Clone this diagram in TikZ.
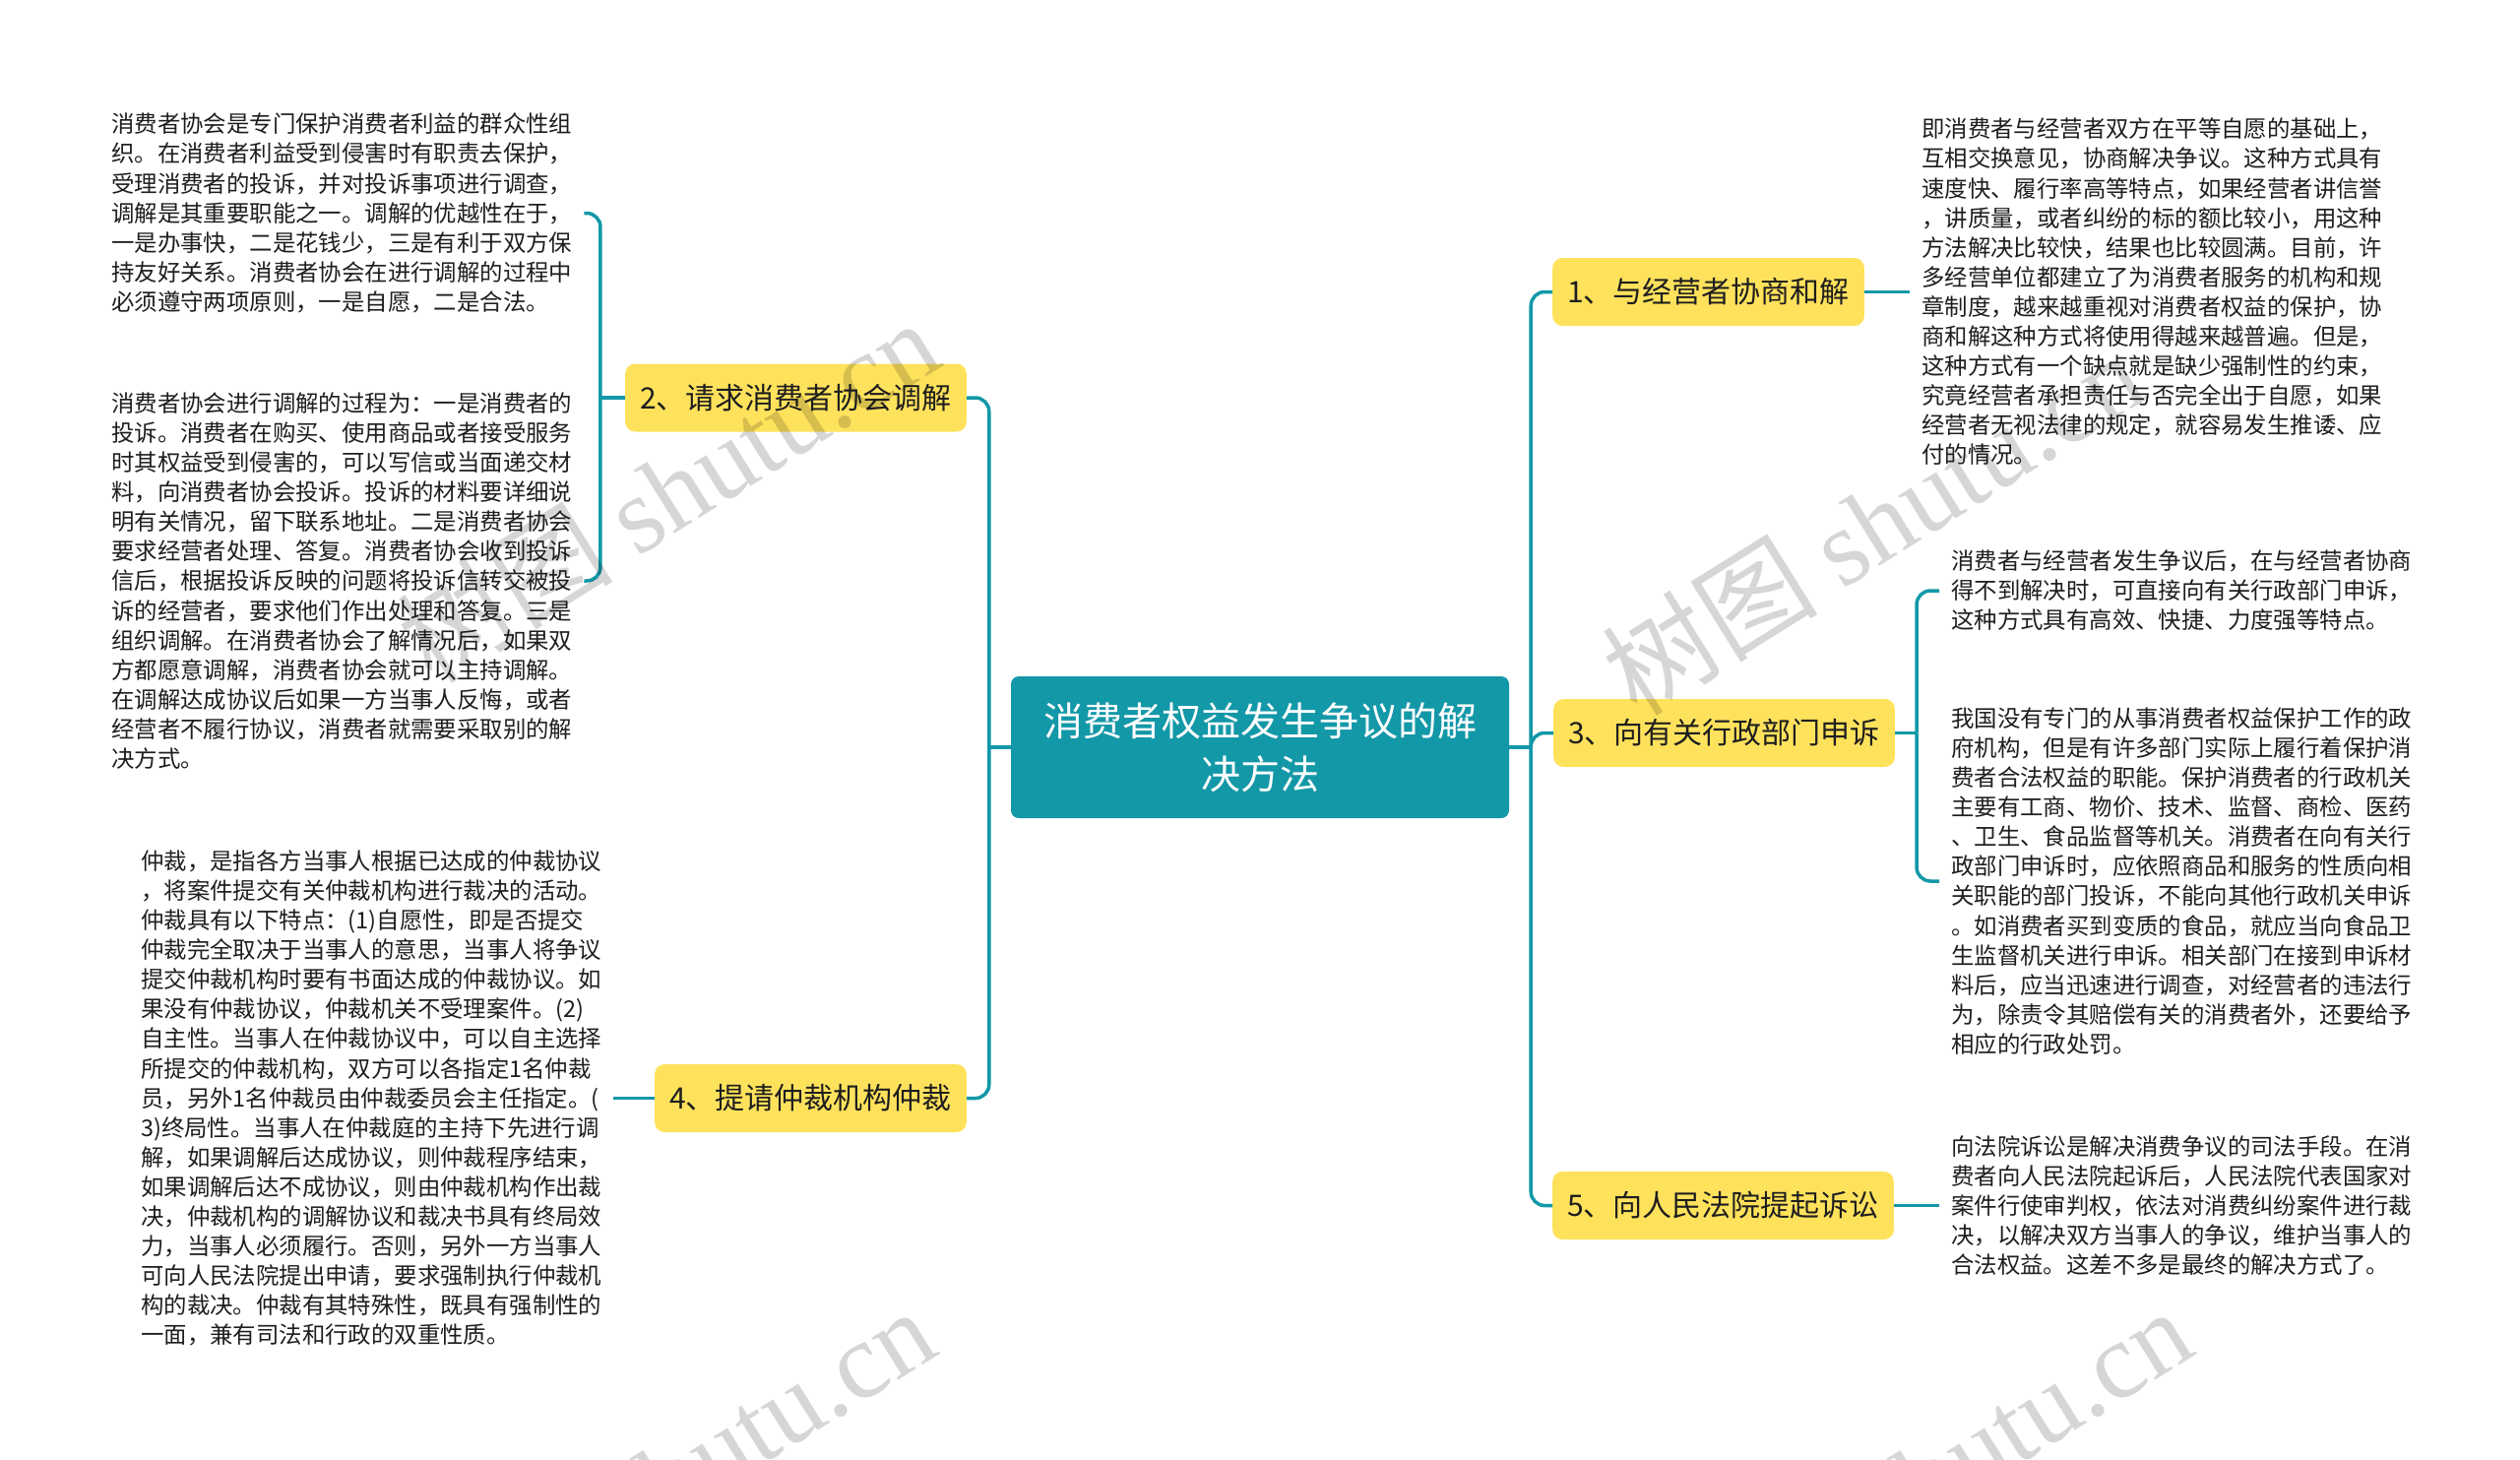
\documentclass[tikz,border=0pt]{standalone}
\usepackage{fontspec}
\setmainfont{Noto Sans CJK SC}
\newfontfamily\wmlatin{Liberation Serif}
\usetikzlibrary{calc}
\definecolor{tealc}{RGB}{19,152,168}
\definecolor{yelc}{RGB}{255,226,92}
\definecolor{txtc}{RGB}{30,30,30}
\begin{document}
\begin{tikzpicture}[x=1pt,y=-1pt,
  connline/.style={draw=tealc,line width=3.5pt,rounded corners=14pt},
  rootbox/.style={fill=tealc,rounded corners=8pt,text=white,minimum width=506pt,minimum height=144pt,align=center,font=\fontsize{40}{54}\selectfont,inner sep=0pt},
  branchbox/.style={fill=yelc,rounded corners=10pt,text=txtc,minimum height=69pt,inner xsep=15pt,inner ysep=0pt,font=\fontsize{30}{36}\selectfont},
  leaftext/.style={text=txtc,align=left,inner xsep=12pt,inner ysep=0pt,font=\fontsize{23.4}{30.1}\selectfont},
  wmark/.style={rotate=32,text=black,opacity=0.16,font=\fontsize{110}{110}\selectfont}
]
\fill[white] (0,0) rectangle (2560,1483);
\useasboundingbox (0,0) rectangle (2560,1483);

\node[rootbox] (c) at (1280,759) {消费者权益发生争议的解\\决方法};

\node[branchbox,anchor=east] (b2) at (982,404) {2、请求消费者协会调解};
\node[branchbox,anchor=east] (b4) at (982,1115.5) {4、提请仲裁机构仲裁};
\node[branchbox,anchor=west] (b1) at (1577,296.5) {1、与经营者协商和解};
\node[branchbox,anchor=west] (b3) at (1578,744.5) {3、向有关行政部门申诉};
\node[branchbox,anchor=west] (b5) at (1577,1224.5) {5、向人民法院提起诉讼};

\node[leaftext,anchor=west] (t1) at (101,216.5) {消费者协会是专门保护消费者利益的群众性组\\织。在消费者利益受到侵害时有职责去保护，\\受理消费者的投诉，并对投诉事项进行调查，\\调解是其重要职能之一。调解的优越性在于，\\一是办事快，二是花钱少，三是有利于双方保\\持友好关系。消费者协会在进行调解的过程中\\必须遵守两项原则，一是自愿，二是合法。};
\node[leaftext,anchor=west] (t2) at (101,590) {消费者协会进行调解的过程为：一是消费者的\\投诉。消费者在购买、使用商品或者接受服务\\时其权益受到侵害的，可以写信或当面递交材\\料，向消费者协会投诉。投诉的材料要详细说\\明有关情况，留下联系地址。二是消费者协会\\要求经营者处理、答复。消费者协会收到投诉\\信后，根据投诉反映的问题将投诉信转交被投\\诉的经营者，要求他们作出处理和答复。三是\\组织调解。在消费者协会了解情况后，如果双\\方都愿意调解，消费者协会就可以主持调解。\\在调解达成协议后如果一方当事人反悔，或者\\经营者不履行协议，消费者就需要采取别的解\\决方式。};
\node[leaftext,anchor=west] (t3) at (131,1115.5) {仲裁，是指各方当事人根据已达成的仲裁协议\\，将案件提交有关仲裁机构进行裁决的活动。\\仲裁具有以下特点：(1)自愿性，即是否提交\\仲裁完全取决于当事人的意思，当事人将争议\\提交仲裁机构时要有书面达成的仲裁协议。如\\果没有仲裁协议，仲裁机关不受理案件。(2)\\自主性。当事人在仲裁协议中，可以自主选择\\所提交的仲裁机构，双方可以各指定1名仲裁\\员，另外1名仲裁员由仲裁委员会主任指定。(\\3)终局性。当事人在仲裁庭的主持下先进行调\\解，如果调解后达成协议，则仲裁程序结束，\\如果调解后达不成协议，则由仲裁机构作出裁\\决，仲裁机构的调解协议和裁决书具有终局效\\力，当事人必须履行。否则，另外一方当事人\\可向人民法院提出申请，要求强制执行仲裁机\\构的裁决。仲裁有其特殊性，既具有强制性的\\一面，兼有司法和行政的双重性质。};
\node[leaftext,anchor=west] (t4) at (1940,296.5) {即消费者与经营者双方在平等自愿的基础上，\\互相交换意见，协商解决争议。这种方式具有\\速度快、履行率高等特点，如果经营者讲信誉\\，讲质量，或者纠纷的标的额比较小，用这种\\方法解决比较快，结果也比较圆满。目前，许\\多经营单位都建立了为消费者服务的机构和规\\章制度，越来越重视对消费者权益的保护，协\\商和解这种方式将使用得越来越普遍。但是，\\这种方式有一个缺点就是缺少强制性的约束，\\究竟经营者承担责任与否完全出于自愿，如果\\经营者无视法律的规定，就容易发生推诿、应\\付的情况。};
\node[leaftext,anchor=west] (t5) at (1970,600) {消费者与经营者发生争议后，在与经营者协商\\得不到解决时，可直接向有关行政部门申诉，\\这种方式具有高效、快捷、力度强等特点。};
\node[leaftext,anchor=west] (t6) at (1970,895) {我国没有专门的从事消费者权益保护工作的政\\府机构，但是有许多部门实际上履行着保护消\\费者合法权益的职能。保护消费者的行政机关\\主要有工商、物价、技术、监督、商检、医药\\、卫生、食品监督等机关。消费者在向有关行\\政部门申诉时，应依照商品和服务的性质向相\\关职能的部门投诉，不能向其他行政机关申诉\\。如消费者买到变质的食品，就应当向食品卫\\生监督机关进行申诉。相关部门在接到申诉材\\料后，应当迅速进行调查，对经营者的违法行\\为，除责令其赔偿有关的消费者外，还要给予\\相应的行政处罚。};
\node[leaftext,anchor=west] (t7) at (1970,1224.5) {向法院诉讼是解决消费争议的司法手段。在消\\费者向人民法院起诉后，人民法院代表国家对\\案件行使审判权，依法对消费纠纷案件进行裁\\决，以解决双方当事人的争议，维护当事人的\\合法权益。这差不多是最终的解决方式了。};

% connectors
\draw[connline] (c.west) -- ($(c.west)+(-22,0)$) coordinate (jl);
\draw[connline] (jl) |- (b2.east);
\draw[connline] (jl) |- (b4.east);
\draw[connline] (c.east) -- ($(c.east)+(22,0)$) coordinate (jr);
\draw[connline] (jr) |- (b1.west);
\draw[connline] (jr) |- (b3.west);
\draw[connline] (jr) |- (b5.west);
\draw[connline] (b2.west) -- ($(b2.west)+(-25,0)$) coordinate (j2);
\draw[connline] (j2) |- (t1.east);
\draw[connline] (j2) |- (t2.east);
\draw[connline] (b4.west) -- (t3.east);
\draw[connline] (b1.east) -- (t4.west);
\draw[connline] (b3.east) -- ($(b3.east)+(22,0)$) coordinate (j3);
\draw[connline] (j3) |- (t5.west);
\draw[connline] (j3) |- (t6.west);
\draw[connline] (b5.east) -- (t7.west);

% watermarks
\begin{scope}
\clip (0,0) rectangle (2560,1483);
\node[wmark] (w1) at (678,498) {树图 {\wmlatin shutu.cn}};
\node[wmark] (w2) at (1902,531) {树图 {\wmlatin shutu.cn}};
\node[wmark] (w3) at (674,1502) {树图 {\wmlatin shutu.cn}};
\node[wmark] (w4) at (1951,1502) {树图 {\wmlatin shutu.cn}};
\end{scope}
\end{tikzpicture}
\end{document}
